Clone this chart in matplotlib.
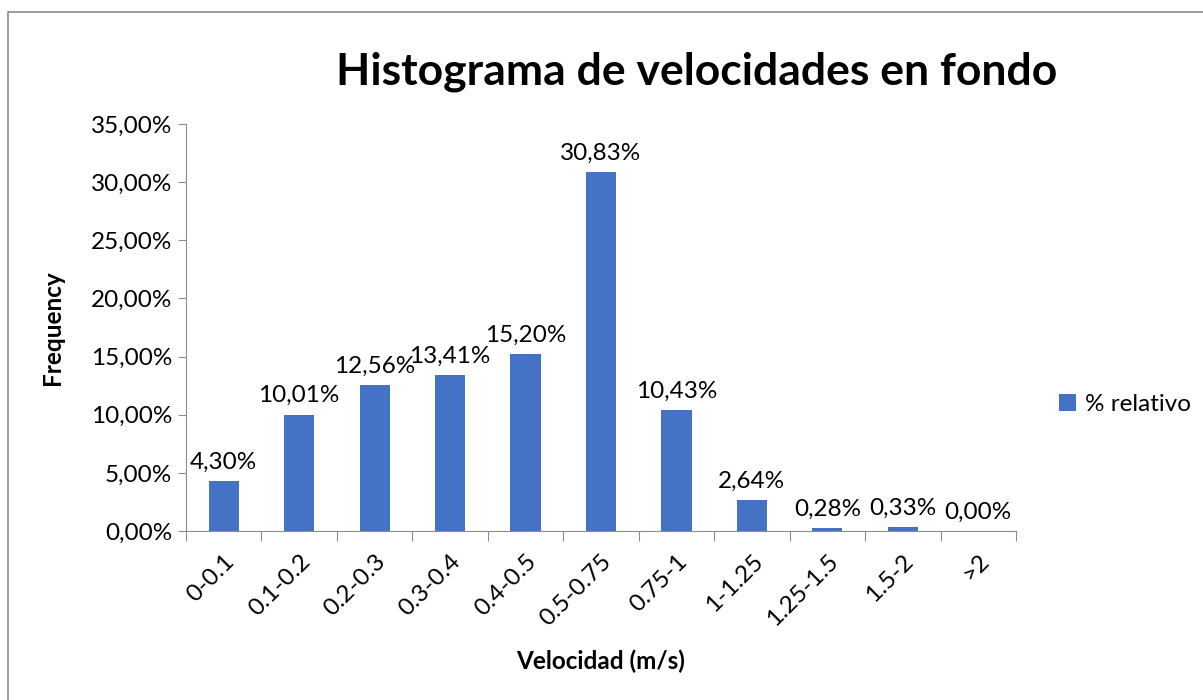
import matplotlib.pyplot as plt
from matplotlib.patches import Rectangle
from matplotlib.ticker import FuncFormatter

categorias = ['0-0.1', '0.1-0.2', '0.2-0.3', '0.3-0.4', '0.4-0.5', '0.5-0.75',
              '0.75-1', '1-1.25', '1.25-1.5', '1.5-2', '>2']
porcentajes = [4.30, 10.01, 12.56, 13.41, 15.20, 30.83, 10.43, 2.64, 0.28, 0.33, 0.00]

plt.rcParams['font.family'] = ['Lato', 'DejaVu Sans']

W, H = 1203, 700
fig = plt.figure(figsize=(W / 100, H / 100), dpi=100)

# marco del grafico
fig.patches.append(Rectangle((8 / W, -0.01), 1.2, 1 - 12 / H + 0.01, transform=fig.transFigure,
                             fill=False, edgecolor='#8c8c8c', linewidth=1.2))

ax = fig.add_axes([186 / W, 1 - 531 / H, (1016 - 186) / W, (531 - 124) / H])

x = range(len(categorias))
azul = '#4472c4'
ax.bar(x, porcentajes, width=0.4, color=azul, label='% relativo')

for i, v in enumerate(porcentajes):
    ax.annotate(f'{v:.2f}%'.replace('.', ','), (i, v), xytext=(0, 6), textcoords='offset points',
                ha='center', va='bottom', fontsize=17.5)

ax.set_xlim(-0.5, len(categorias) - 0.5)
ax.set_ylim(0, 35)
ax.set_yticks(range(0, 36, 5))
ax.yaxis.set_major_formatter(FuncFormatter(lambda v, p: f'{v:.2f}%'.replace('.', ',')))
ax.set_xticks([i - 0.5 for i in range(len(categorias) + 1)], minor=False)
ax.set_xticklabels([])
ax.set_xticks(list(x), minor=True)
ax.set_xticklabels(categorias, minor=True, rotation=45, ha='right', rotation_mode='anchor', fontsize=17.5)
ax.tick_params(axis='x', which='minor', length=0, pad=14)
ax.tick_params(axis='x', which='major', length=7, color='#8c8c8c', direction='out')
ax.tick_params(axis='y', length=6, color='#8c8c8c', labelsize=17.5, pad=4)

for s in ['top', 'right']:
    ax.spines[s].set_visible(False)
ax.spines['left'].set_color('#8c8c8c')
ax.spines['bottom'].set_color('#8c8c8c')

ax.set_ylabel('Frequency', fontsize=17.5, fontweight='bold', labelpad=19)
ax.set_xlabel('Velocidad (m/s)', fontsize=17.5, fontweight='bold', labelpad=14)
fig.text(697 / W, 1 - 72 / H, 'Histograma de velocidades en fondo', fontsize=32,
         fontweight='bold', ha='center', va='center')

ax.legend(loc='center left', bbox_to_anchor=(1.025, 0.31), frameon=False, fontsize=17.5,
          handlelength=0.7, handleheight=0.7, handletextpad=0.4)

fig.savefig('out.png', dpi=100)
